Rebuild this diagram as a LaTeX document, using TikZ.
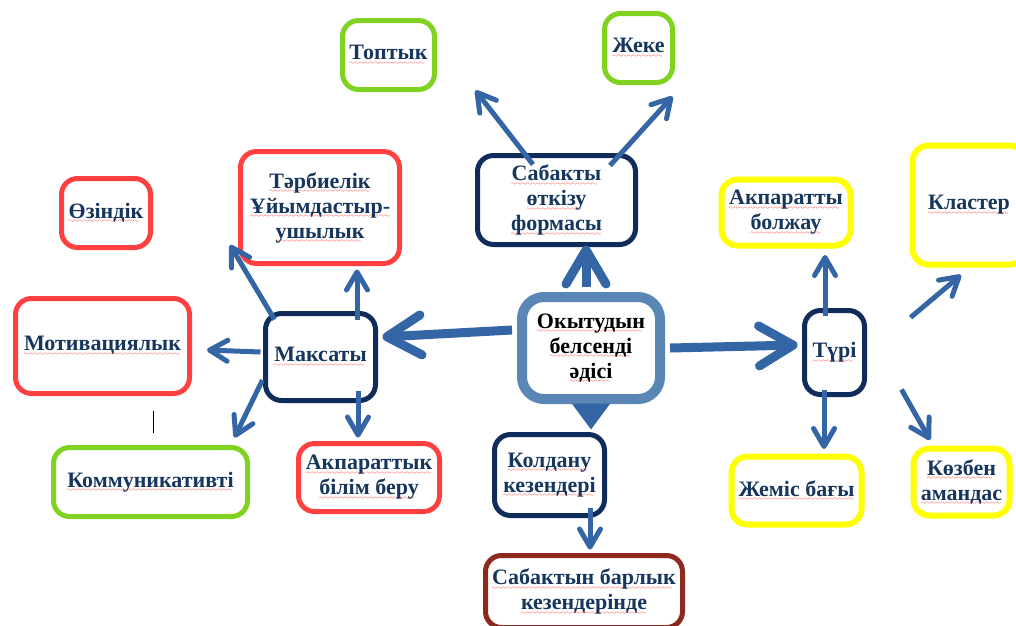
\documentclass[tikz,border=0pt]{standalone}
\usepackage{fontspec}
\setmainfont{Liberation Serif}
\usepackage{tikz}
\usetikzlibrary{calc, arrows.meta}
\definecolor{myred1}{RGB}{255, 64, 64}
\definecolor{mygreen1}{RGB}{128, 210, 32}
\definecolor{myyellow1}{RGB}{255, 255, 0}
\definecolor{mynavy1}{RGB}{16, 44, 90}
\definecolor{mybrown1}{RGB}{140, 42, 32}
\definecolor{mysteel1}{RGB}{90, 134, 182}
\definecolor{myblue1}{RGB}{52, 101, 164}
\definecolor{mytext1}{RGB}{23, 54, 93}
\font\mywave=lasy6
\newsavebox{\splbox}
\newcommand{\spl}[1]{\sbox{\splbox}{#1}\leavevmode\rlap{\lower4.5pt\hbox to \wd\splbox{\color{red}\leaders\hbox{\mywave\char58}\hfill}}\usebox{\splbox}}

\begin{document}
\begin{tikzpicture}[
    x = 1pt, y = -1pt,
    bx/.style = {draw, rounded corners = 16pt, line width = 5pt, fill = white, text = mytext1, align = center, inner sep = 2pt, font = \bfseries\fontsize{22}{25}\selectfont},
    r0/.style = {bx, draw = myred1},
    g0/.style = {bx, draw = mygreen1},
    y0/.style = {bx, draw = myyellow1, line width = 6pt},
    n0/.style = {bx, draw = mynavy1},
    a1/.style = {draw = myblue1, line width = 5pt, -{Straight Barb[length = 18pt, width = 21pt, round]}},
    a2/.style = {draw = myblue1, line width = 9pt, -{Straight Barb[length = 34pt, width = 40pt, round]}},
]
\useasboundingbox (0,0) rectangle (1016,625);
\fill[white] (0,0) rectangle (1016,625);

\node[g0, minimum width = 92pt, minimum height = 69pt] (top) at (388.5,55) {\spl{Топтык}};
\node[g0, minimum width = 68pt, minimum height = 69pt] (jeke) at (638.5,48) {\spl{Жеке}};
\node[r0, minimum width = 89pt, minimum height = 69pt] (ozin) at (106,213) {\spl{Өзіндік}};
\node[r0, minimum width = 159pt, minimum height = 112pt] (tarb) at (320,207.5) {\spl{Тәрбиелік}\\ \spl{Ұйымдастыр-}\\ \spl{ушылык}};
\node[n0, minimum width = 158pt, minimum height = 89pt] (sab) at (556.5,200) {\spl{Сабакты}\\ \spl{өткізу}\\ \spl{формасы}};
\node[y0, minimum width = 129pt, minimum height = 66pt] (akbol) at (786,212.5) {\spl{Акпаратты}\\ \spl{болжау}};
\node[y0, minimum width = 113pt, minimum height = 119pt] (klas) at (969,205) {\spl{Кластер}};
\node[r0, minimum width = 174pt, minimum height = 95pt] (mot) at (102.5,346) {\spl{Мотивациялык}};
\node[n0, minimum width = 110pt, minimum height = 87pt] (mak) at (320.5,357) {\spl{Максаты}};
\node[bx, draw = mysteel1, line width = 10pt, rounded corners = 22pt, text = black, minimum width = 138pt, minimum height = 102pt] (cen) at (591,348) {\spl{Окытудын}\\ \spl{белсенді}\\ \spl{әдісі}};
\node[n0, minimum width = 60pt, minimum height = 84pt] (turi) at (834.5,352.5) {\spl{Түрі}};
\node[g0, minimum width = 194pt, minimum height = 69pt] (komm) at (150.5,482) {\spl{Коммуникативті}};
\node[r0, minimum width = 141pt, minimum height = 68pt] (akbil) at (369,477.5) {\spl{Акпараттык}\\ \spl{білім беру}};
\node[n0, minimum width = 110pt, minimum height = 81pt] (qol) at (549.5,475) {\spl{Колдану}\\ \spl{кезендері}};
\node[bx, draw = mybrown1, minimum width = 197pt, minimum height = 72pt] (sabbar) at (584,591.5) {\spl{Сабактын барлык}\\ \spl{кезендерінде}};
\node[y0, minimum width = 130pt, minimum height = 68pt] (jem) at (796.5,490.5) {\spl{Жеміс бағы}};
\node[y0, minimum width = 96pt, minimum height = 67pt] (koz) at (961.5,482) {\spl{Көзбен}\\ \spl{амандас}};
\coordinate (free) at (230,245);

\draw[a2] ($(cen.west)+(-5,-18)$) -- ($(mak.east)+(4.5,-20)$);
\draw[a2] ($(cen.north)+(-5,-5)$) -- ($(sab.south)+(29.5,-1.5)$);
\draw[a2] ($(cen.east)+(5,0)$) -- ($(turi.west)+(-4.5,-7.5)$);
\draw[draw = myblue1, fill = myblue1, line width = 2pt, -{Triangle[length = 26pt, width = 38pt]}] ($(cen.south)+(0,3)$) -- ($(qol.north)+(41.5,-2.5)$);
\draw[a1] ($(sab.north)+(-23.5,11.5)$) -- ($(top.south east)+(38.5,-1.5)$);
\draw[a1] ($(sab.north)+(53.5,12.5)$) -- ($(jeke.south east)+(-2.5,11.5)$);
\draw[a1] ($(mak.north)+(36.5,8.5)$) -- ($(tarb.south)+(37,3.5)$);
\draw[a1] ($(mak.north west)+(11.5,8.5)$) -- (free);
\draw[a1] ($(mak.west)+(-2.5,-5)$) -- ($(mot.east)+(15,4)$);
\draw[a1] ($(mak.west)+(-0.5,23)$) -- ($(komm.north east)+(-15.5,-7.5)$);
\draw[a1] ($(mak.south)+(37.5,-12.5)$) -- ($(akbil.north)+(-11,-3.5)$);
\draw[a1] ($(qol.south)+(40.5,-10.5)$) -- ($(sabbar.north)+(6,-3.5)$);
\draw[a1] ($(turi.north)+(-9.5,7.5)$) -- ($(akbol.south)+(39,6.5)$);
\draw[a1] ($(turi.north east)+(43.5,9.5)$) -- ($(klas.south)+(-8,7.5)$);
\draw[a1] ($(turi.south)+(-10.5,-7.5)$) -- ($(jem.north)+(27.5,-4.5)$);
\draw[a1] ($(turi.south east)+(34.5,-7.5)$) -- ($(koz.north)+(-31.5,-5.5)$);
\draw[line width = 1pt] (153,411) -- (153,433);
\end{tikzpicture}
\end{document}
